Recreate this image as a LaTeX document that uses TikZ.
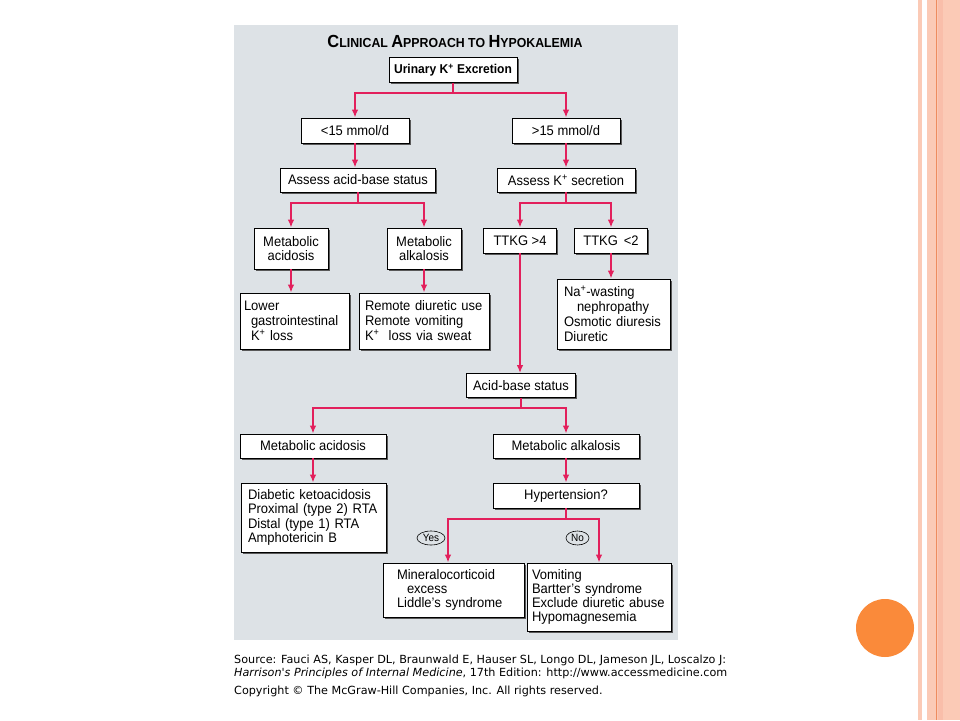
\documentclass[tikz,border=0pt]{standalone}
\usepackage{fontspec}
\setmainfont{Liberation Sans}[FakeStretch=0.94]
\newfontfamily\capfont{DejaVu Sans}
\usetikzlibrary{arrows.meta,shadows,shapes.geometric}
\definecolor{panelgray}{RGB}{221,226,230}
\definecolor{linkred}{RGB}{226,32,92}
\definecolor{salmonA}{RGB}{251,202,182}
\definecolor{salmonB}{RGB}{249,190,170}
\definecolor{salmonLine}{RGB}{238,140,95}
\definecolor{dotorange}{RGB}{250,138,58}
\newcommand{\smcap}[1]{{\fontsize{13.1}{12}\selectfont #1}}
\newcommand{\bgcap}[1]{{\fontsize{17.5}{16}\selectfont #1}}
\newcommand{\Kp}{K\textsuperscript{+}}
\tikzset{
  box/.style={draw=black, line width=0.8pt, fill=white,
    font=\fontsize{13.8}{15}\selectfont, inner sep=2pt,
    drop shadow={shadow xshift=1.8pt, shadow yshift=-1.8pt, fill=black!65, opacity=1}},
  cbox/.style={box, align=center},
  lbox/.style={box, align=left},
  link/.style={draw=linkred, line width=2pt, -{Latex[length=8pt,width=6.5pt]}},
  tag/.style={ellipse, draw=black, line width=0.6pt, inner sep=0pt,
    font=\fontsize{10.6}{10}\selectfont, minimum height=14pt},
  captext/.style={font=\capfont\fontsize{11.2}{12}\selectfont, inner sep=0pt, anchor=base west},
}
\begin{document}
\begin{tikzpicture}[x=1pt,y=-1pt]
\useasboundingbox (0,0) rectangle (960,720);
\fill[white] (0,0) rectangle (960,720);
% right decoration
\fill[salmonA] (918,0) rectangle (922,720);
\fill[salmonA] (927,0) rectangle (960,720);
\fill[salmonB] (938,0) rectangle (943,720);
\fill[salmonLine] (935.5,0) rectangle (937,720);
\fill[dotorange] (885,628) circle[radius=29];
% panel
\fill[panelgray] (234,25) rectangle (678,640);
\node[font=\bfseries\fontsize{13.1}{14}\selectfont, inner sep=0pt] (title) at (455,41)
  {\bgcap{C}\smcap{LINICAL} \bgcap{A}\smcap{PPROACH TO} \bgcap{H}\smcap{YPOKALEMIA}};
% nodes
\node[cbox, font=\bfseries\fontsize{12.8}{14}\selectfont, minimum width=128, minimum height=25] (ur) at (453,70) {Urinary \Kp{} Excretion};
\node[cbox, minimum width=108, minimum height=25] (lt) at (355,130.5) {<15 mmol/d};
\node[cbox, minimum width=108, minimum height=25] (gt) at (566,130.5) {>15 mmol/d};
\node[cbox, minimum width=155, minimum height=24] (aab) at (358,180) {Assess acid-base status};
\node[cbox, minimum width=138, minimum height=24] (aks) at (566,180) {Assess \Kp{} secretion};
\node[cbox, font=\fontsize{13.8}{14.5}\selectfont, minimum width=74, minimum height=41] (ma1) at (291,248.5) {Metabolic\\acidosis};
\node[cbox, font=\fontsize{13.8}{14.5}\selectfont, minimum width=74, minimum height=41] (mk1) at (424,248.5) {Metabolic\\alkalosis};
\node[cbox, minimum width=73, minimum height=25] (t4) at (520,240.5) {TTKG >4};
\node[cbox, minimum width=73, minimum height=25] (t2) at (611,240.5) {TTKG \,<2};
\node[lbox, text width=101, inner xsep=4, minimum height=56] (low) at (294.5,321)
  {Lower\\\hspace*{7pt}gastrointestinal\\\hspace*{7pt}\Kp{} loss};
\node[lbox, text width=118, inner xsep=6, minimum height=56] (rem) at (424,321)
  {\mbox{Remote diuretic use}\\Remote vomiting\\\Kp{}\ \ loss via sweat};
\node[lbox, text width=99, inner xsep=7, minimum height=70] (na) at (613.5,314)
  {Na\textsuperscript{+}-wasting\\\hspace*{13pt}nephropathy\\\mbox{Osmotic diuresis}\\Diuretic};
\node[cbox, minimum width=109, minimum height=24] (ab) at (521,385.5) {Acid-base status};
\node[cbox, minimum width=146, minimum height=24] (ma2) at (313,446) {Metabolic acidosis};
\node[cbox, minimum width=146, minimum height=24] (mk2) at (566,446) {Metabolic alkalosis};
\node[lbox, font=\fontsize{13.8}{14.6}\selectfont, text width=131, inner xsep=7, minimum height=69] (dia) at (313.5,517.5)
  {\mbox{Diabetic ketoacidosis}\\\mbox{Proximal (type 2) RTA}\\Distal (type 1) RTA\\Amphotericin B};
\node[cbox, minimum width=146, minimum height=25] (hyp) at (566,495.5) {Hypertension?};
\node[lbox, font=\fontsize{13.8}{14.2}\selectfont, text width=113, inner xsep=14, minimum height=54] (min) at (453.5,590)
  {Mineralocorticoid\\\hspace*{10pt}excess\\Liddle's syndrome};
\node[lbox, font=\fontsize{13.8}{14.2}\selectfont, text width=134, inner xsep=5, minimum height=68] (vom) at (599,597)
  {Vomiting\\Bartter's syndrome\\\mbox{Exclude diuretic abuse}\\Hypomagnesemia};
\node[tag, minimum width=28] (yes) at (431,538) {Yes};
\node[tag, minimum width=23] (no) at (577.5,538) {No};
\coordinate (yesx) at (448,0);
% connectors
\draw[link] (ur.south) -- ++(0,10.5) -| (lt.north);
\draw[link] (ur.south) -- ++(0,10.5) -| (gt.north);
\draw[link] (lt.south) -- (lt.south |- aab.north);
\draw[link] (gt.south) -- (gt.south |- aks.north);
\draw[link] (aab.south) -- ++(0,11) -| (ma1.north);
\draw[link] (aab.south) -- ++(0,11) -| (mk1.north);
\draw[link] (aks.south) -- ++(0,11) -| (t4.north);
\draw[link] (aks.south) -- ++(0,11) -| (t2.north);
\draw[link] (ma1.south) -- (ma1.south |- low.north);
\draw[link] (mk1.south) -- (mk1.south |- rem.north);
\draw[link] (t2.south) -- (t2.south |- na.north);
\draw[link] (t4.south) -- (t4.south |- ab.north);
\draw[link] (ab.south) -- ++(0,10.5) -| (ma2.north);
\draw[link] (ab.south) -- ++(0,10.5) -| (mk2.north);
\draw[link] (ma2.south) -- (ma2.south |- dia.north);
\draw[link] (mk2.south) -- (mk2.south |- hyp.north);
\draw[link] (hyp.south) -- ++(0,11) -| (yesx |- min.north);
\draw[link] (hyp.south) -- ++(0,11) -| (vom.north);
% caption
\node[captext] (src1) at (234,663) {Source: Fauci AS, Kasper DL, Braunwald E, Hauser SL, Longo DL, Jameson JL, Loscalzo J:};
\node[captext] (src2) at (234,676) {\textit{Harrison's Principles of Internal Medicine}, 17th Edition: http://www.accessmedicine.com};
\node[captext] (copyr) at (234,694) {Copyright \textcopyright{} The McGraw-Hill Companies, Inc. All rights reserved.};
\end{tikzpicture}
\end{document}
